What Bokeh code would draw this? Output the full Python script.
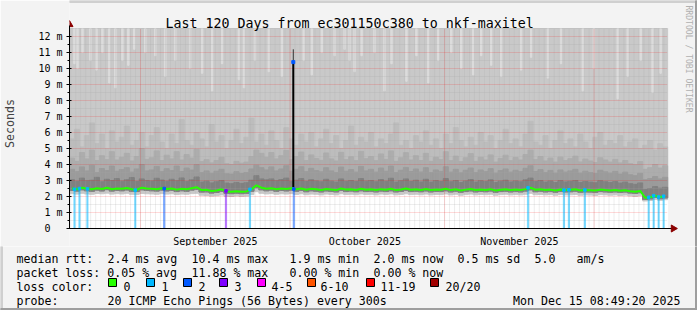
import re
from bokeh.plotting import figure
from bokeh.layouts import column
from bokeh.models import Range1d, FixedTicker
from bokeh.core.properties import value
from bokeh.embed import file_html
from bokeh.resources import INLINE

# ---------------- data ----------------
title_text = "Last 120 Days from ec301150c380 to nkf-maxitel"
month_labels = ["September 2025", "October 2025", "November 2025"]
month_label_pos = [29.25, 59.25, 90.25]          # days since start
month_starts = [14.25, 44.25, 75.25, 105.25]     # days since start
y_ticks = list(range(13))
y_tick_labels = ["0\u00a0\u00a0"] + [f"{v} m" for v in range(1, 13)]

days = list(range(120))

median = [2.50,2.45,2.55,2.48,2.45,2.52,2.47,2.55,2.45,2.50,2.48,2.53,2.45,2.42,2.55,2.50,2.48,2.45,2.52,2.47,
          2.50,2.43,2.48,2.45,2.52,2.58,2.40,2.42,2.35,2.38,2.45,2.32,2.30,2.33,2.30,2.32,2.45,2.70,2.55,2.48,
          2.52,2.45,2.50,2.47,2.52,2.45,2.50,2.42,2.48,2.45,2.40,2.47,2.44,2.40,2.50,2.43,2.46,2.41,2.48,2.42,
          2.45,2.40,2.46,2.42,2.48,2.40,2.44,2.50,2.42,2.45,2.41,2.47,2.40,2.44,2.42,2.48,2.40,2.45,2.38,2.43,
          2.47,2.40,2.44,2.41,2.46,2.38,2.42,2.45,2.40,2.43,2.40,2.46,2.55,2.42,2.45,2.40,2.43,2.38,2.44,2.40,
          2.42,2.45,2.38,2.41,2.39,2.37,2.43,2.40,2.38,2.41,2.36,2.39,2.33,2.30,2.35,1.92,1.95,2.05,1.97,2.02]

smoke_min = [2.18,2.15,2.20,2.16,2.14,2.19,2.17,2.21,2.15,2.18,2.16,2.20,2.14,2.13,2.19,2.17,2.16,2.14,2.18,2.15,
             2.17,2.12,2.15,2.14,2.18,2.20,2.08,2.06,2.03,2.05,2.10,2.02,2.00,2.04,2.01,2.03,2.12,2.30,2.20,2.16,
             2.18,2.14,2.17,2.15,2.18,2.13,2.17,2.11,2.15,2.14,2.10,2.15,2.13,2.10,2.17,2.12,2.14,2.11,2.16,2.12,
             2.14,2.10,2.15,2.12,2.16,2.10,2.13,2.17,2.12,2.14,2.11,2.15,2.10,2.13,2.12,2.16,2.10,2.14,2.08,2.12,
             2.15,2.10,2.13,2.11,2.14,2.08,2.12,2.14,2.10,2.12,2.10,2.14,2.20,2.11,2.13,2.10,2.12,2.08,2.13,2.10,
             2.11,2.13,2.08,2.10,2.09,2.07,2.12,2.10,2.08,2.10,2.06,2.09,2.04,2.01,2.05,1.72,1.75,1.82,1.76,1.80]

smoke_p20 = [2.38,2.34,2.42,2.36,2.33,2.40,2.35,2.43,2.34,2.38,2.36,2.41,2.33,2.31,2.42,2.38,2.36,2.34,2.40,2.35,
             2.38,2.31,2.36,2.33,2.40,2.45,2.28,2.29,2.22,2.25,2.32,2.20,2.18,2.21,2.18,2.20,2.33,2.55,2.42,2.36,
             2.40,2.33,2.38,2.35,2.40,2.33,2.38,2.30,2.36,2.33,2.29,2.35,2.32,2.29,2.38,2.31,2.34,2.30,2.36,2.31,
             2.33,2.29,2.34,2.31,2.36,2.29,2.32,2.38,2.31,2.33,2.30,2.35,2.29,2.32,2.31,2.36,2.29,2.33,2.27,2.31,
             2.35,2.29,2.32,2.30,2.34,2.27,2.31,2.33,2.29,2.31,2.29,2.34,2.42,2.30,2.33,2.29,2.31,2.27,2.32,2.29,
             2.30,2.33,2.27,2.29,2.28,2.26,2.31,2.29,2.27,2.29,2.25,2.28,2.22,2.19,2.24,1.82,1.85,1.94,1.86,1.91]

smoke_p60 = [3.05,2.95,3.15,2.98,3.02,3.20,2.92,3.08,3.00,3.12,2.96,3.05,3.18,2.94,3.10,3.00,2.97,3.14,3.03,2.95,
             3.08,2.98,3.16,2.93,3.04,3.22,2.90,2.96,2.85,2.92,3.00,2.84,2.80,2.88,2.82,2.86,3.02,3.30,3.10,3.04,
             3.10,2.98,3.06,3.15,2.95,3.02,3.12,2.94,3.05,2.97,2.92,3.08,2.96,2.90,3.10,2.95,3.00,2.93,3.12,2.96,
             3.00,2.92,3.06,2.95,3.14,2.90,2.98,3.10,2.94,3.02,2.91,3.08,2.90,2.99,2.94,3.12,2.92,3.00,2.88,2.97,
             3.06,2.90,2.98,2.93,3.04,2.88,2.96,3.02,2.91,2.97,2.92,3.04,3.15,2.93,3.00,2.90,2.97,2.87,2.99,2.91,
             2.95,3.00,2.88,2.94,2.90,2.86,2.98,2.92,2.88,2.93,2.84,2.90,2.80,2.76,2.85,2.45,2.50,2.62,2.52,2.58]

smoke_p70 = [3.70,3.55,3.85,3.60,3.95,3.50,3.75,3.62,3.90,3.58,3.68,3.80,3.52,3.72,4.00,3.60,3.66,3.88,3.55,3.74,
             3.62,3.90,3.56,3.78,3.65,3.98,3.50,3.60,3.45,3.58,3.70,3.42,3.40,3.55,3.44,3.50,3.72,3.95,3.80,3.66,
             3.85,3.60,3.72,3.92,3.58,3.70,3.86,3.55,3.76,3.62,3.54,3.80,3.60,3.50,3.84,3.58,3.68,3.52,3.88,3.60,
             3.70,3.52,3.78,3.58,3.90,3.50,3.64,3.82,3.56,3.72,3.53,3.80,3.50,3.66,3.57,3.86,3.52,3.70,3.48,3.64,
             3.78,3.50,3.66,3.55,3.74,3.46,3.62,3.72,3.52,3.64,3.55,3.76,3.92,3.56,3.68,3.50,3.63,3.46,3.66,3.52,
             3.60,3.70,3.46,3.58,3.50,3.44,3.64,3.54,3.46,3.57,3.40,3.52,3.36,3.30,3.45,3.05,3.12,3.25,3.10,3.20]

smoke_p80 = [4.40,4.20,4.75,4.35,4.90,4.25,4.55,4.30,4.80,4.28,4.45,4.70,4.22,4.50,5.00,4.32,4.42,4.85,4.25,4.58,
             4.35,4.80,4.28,4.62,4.40,4.95,4.18,4.30,4.10,4.25,4.45,4.05,4.00,4.20,4.08,4.15,4.50,4.90,4.70,4.45,
             4.75,4.35,4.55,4.88,4.30,4.50,4.78,4.25,4.60,4.38,4.26,4.72,4.35,4.22,4.76,4.30,4.48,4.24,4.82,4.36,
             4.50,4.24,4.66,4.32,4.85,4.20,4.42,4.74,4.28,4.55,4.25,4.70,4.20,4.45,4.30,4.80,4.24,4.52,4.18,4.42,
             4.68,4.20,4.45,4.28,4.60,4.15,4.38,4.58,4.24,4.44,4.28,4.62,4.90,4.30,4.50,4.22,4.40,4.15,4.46,4.25,
             4.36,4.52,4.16,4.34,4.22,4.12,4.42,4.28,4.15,4.32,4.10,4.25,4.05,3.98,4.18,3.70,3.80,4.00,3.78,3.92]

smoke_p90 = [5.6,6.2,5.1,5.8,6.6,5.3,5.9,5.0,6.1,5.4,5.7,6.4,5.2,5.5,6.0,5.1,5.8,6.3,5.4,5.0,
             5.9,5.3,6.8,5.5,5.2,6.0,5.6,5.1,6.5,5.4,5.8,5.0,5.5,6.2,5.3,5.7,6.9,5.4,5.9,5.2,
             6.1,5.5,5.0,6.3,5.6,5.2,5.9,5.4,6.0,5.1,5.6,6.2,5.3,5.8,5.0,5.5,6.4,5.2,5.7,5.4,
             6.0,5.1,5.6,5.3,5.9,6.6,5.2,5.5,5.0,5.8,5.4,6.1,5.2,5.6,5.0,5.9,5.3,6.3,5.5,5.1,
             5.7,5.2,6.0,5.4,5.8,5.0,5.5,6.2,5.3,5.6,5.1,5.9,6.7,5.4,5.2,5.8,5.0,5.5,6.1,5.3,
             5.6,5.1,5.9,5.4,5.0,5.7,6.0,5.2,5.5,5.3,5.8,5.1,5.4,5.6,5.0,5.2,5.5,4.9,5.3,5.1]

smoke_clip = 12.5   # the outer smoke runs above the top of the chart
chart_days = 120
axis_top = 12.875   # y axis arrow tip
axis_right = 121.6  # x axis arrow tip

streak_day = [1.0,1.6,2.6,4.2,5.4,6.6,8.0,9.2,10.6,11.8,13.0,15.2,17.2,19.2,21.2,24.2,26.6,28.6,30.6,34.0,
              35.0,37.2,40.0,42.6,47.0,48.6,50.6,53.2,55.2,56.2,57.2,58.6,61.2,63.2,64.6,67.6,69.6,72.0,74.0,76.6,
              78.6,81.0,82.6,84.6,86.6,90.6,92.6,96.0,98.6,103.0,105.2,110.0,112.0,114.6,117.0,118.6]
streak_low = [10.3,10.0,11.0,10.5,9.9,11.0,9.1,8.8,10.5,10.2,11.2,11.0,10.8,9.5,10.5,10.0,9.7,8.6,10.3,9.3,
              8.8,10.5,9.8,9.5,10.5,9.6,11.0,10.8,11.2,10.5,9.8,10.8,11.0,8.6,10.3,9.2,10.8,9.1,10.5,11.0,
              10.0,9.6,10.8,10.2,9.5,9.9,10.7,9.4,10.3,8.6,10.0,8.1,9.5,10.5,8.5,9.7]

loss_day = [1.0, 2.0, 3.6, 13.2, 19.0, 31.4, 36.2, 45.0, 92.0, 99.2, 100.2, 103.4, 116.2, 117.2, 118.2, 119.2]
loss_count = [1, 1, 1, 1, 2, 3, 1, 2, 1, 1, 1, 1, 1, 1, 1, 1]
loss_top = [2.45, 2.50, 2.48, 2.40, 2.50, 2.35, 2.45, 2.47, 2.55, 2.40, 2.42, 2.41, 1.95, 2.05, 1.97, 2.02]

spike_day = 44.9
spike_base = 2.6
spike_median = 10.4
spike_top = 11.2

loss_legend = ["0", "1", "2", "3", "4-5", "6-10", "11-19", "20/20"]
loss_colors = ["#26ff00", "#00b8ff", "#0059ff", "#7e00ff", "#ff00ff", "#ff5500", "#ff0000", "#a10000"]

stats_line1 = "median rtt:  2.4 ms avg  10.4 ms max   1.9 ms min  2.0 ms now  0.5 ms sd  5.0   am/s"
stats_line2 = "packet loss: 0.05 % avg  11.88 % max   0.00 % min  0.00 % now"
probe_line = "probe:       20 ICMP Echo Pings (56 Bytes) every 300s"
date_text = "Mon Dec 15 08:49:20 2025"
watermark = "RRDTOOL / TOBI OETIKER"

# ---------------- layout ----------------
W, H, SPLIT = 697, 310, 246
FL, FB, PXD, PXM = 67, 228, 5.0, 16.0     # frame left px, zero line px, px per day, px per ms
MONO = "DejaVu Sans Mono"
BG = "#f3f3f3"

def X(px):
    return (px - FL) / PXD

def Y(py):
    return (FB - py) / PXM

# ===== chart =====
p = figure(width=W, height=SPLIT, output_backend="svg", toolbar_location=None, title=None,
           x_range=Range1d(X(FL), X(W)), y_range=Range1d(Y(SPLIT), Y(0)),
           x_axis_location=None,
           min_border_left=FL, min_border_right=0, min_border_top=0, min_border_bottom=0)
p.frame_align = False
p.background_fill_color = BG
p.border_fill_color = BG
p.outline_line_color = None
p.grid.visible = False

p.quad(left=[0], right=[chart_days], bottom=[0], top=[smoke_clip], color="#ffffff")

xc = [d + 0.5 for d in days]
top_clip = [smoke_clip] * len(days)

# smoke bands (outer -> inner)
p.vbar(x=xc, width=1.02, bottom=smoke_min, top=top_clip, color="#c9c9c9")
p.vbar(x=streak_day, width=0.3, bottom=streak_low, top=[smoke_clip] * len(streak_day), color="#dcdcdc")
p.vbar(x=xc, width=1.02, bottom=smoke_p20, top=smoke_p90, color="#bdbdbd")
p.vbar(x=xc, width=1.02, bottom=smoke_p20, top=smoke_p80, color="#adadad")
p.vbar(x=xc, width=1.02, bottom=smoke_p20, top=smoke_p70, color="#9b9b9b")
p.vbar(x=xc, width=1.02, bottom=smoke_p20, top=smoke_p60, color="#808080")

# dotted grid, limited to the data area
day_lines = [0.25 + k for k in range(chart_days)]
half_lines = [0.5 + k for k in range(13)]
p.segment(x0=day_lines, y0=0, x1=day_lines, y1=smoke_clip, line_color="#a8a8a8", line_alpha=0.4, line_dash="1 1")
p.segment(x0=0, y0=half_lines, x1=chart_days, y1=half_lines, line_color="#a8a8a8", line_alpha=0.4, line_dash="1 1")
p.segment(x0=month_starts, y0=0, x1=month_starts, y1=smoke_clip, line_color="#ff0000", line_alpha=0.3, line_dash="1 1")
p.segment(x0=0, y0=y_ticks[1:], x1=chart_days, y1=y_ticks[1:], line_color="#ff0000", line_alpha=0.3, line_dash="1 1")

# loss markers
lcol = [loss_colors[c] for c in loss_count]
p.vbar(x=loss_day, width=0.25, bottom=0, top=loss_top, color=lcol, alpha=0.4)

# median
p.line(x=xc, y=median, line_color="#26ff00", line_width=2)
p.scatter(x=loss_day, y=loss_top, marker="square", size=2.5, color=lcol)

# spike
p.segment(x0=[spike_day], y0=[spike_base], x1=[spike_day], y1=[spike_median], line_color="black", line_width=2)
p.segment(x0=[spike_day], y0=[spike_median], x1=[spike_day], y1=[spike_top], line_color="#333333", line_width=1)
p.scatter(x=[spike_day], y=[spike_median], marker="square", size=3, color="#0059ff")

# x axis line and arrow heads
p.segment(x0=[0], y0=[0], x1=[axis_right - 0.6], y1=[0], line_color="black", line_width=1)
p.scatter(x=[axis_right - 0.45], y=[0], marker="triangle", size=7, angle=-1.5708, color="#8b0000")
p.scatter(x=[0], y=[axis_top - 0.13], marker="triangle", size=7, color="#8b0000")

# y axis
ya = p.yaxis[0]
ya.bounds = (0, axis_top - 0.2)
ya.ticker = FixedTicker(ticks=y_ticks, minor_ticks=half_lines[:-1])
ya.major_label_overrides = {t: l for t, l in zip(y_ticks, y_tick_labels)}
ya.major_label_text_font = MONO
ya.major_label_text_font_size = "10px"
ya.major_label_text_color = "black"
ya.major_tick_out = 3
ya.major_tick_in = 2
ya.minor_tick_out = 2
ya.minor_tick_in = 0
ya.major_label_standoff = 4
ya.axis_label = "Seconds"
ya.axis_label_text_font = MONO
ya.axis_label_text_font_size = "11.6px"
ya.axis_label_text_font_style = "normal"
ya.axis_label_standoff = 18
ya.axis_line_color = "black"

# month labels
p.text(x=month_label_pos, y=Y(241), text=month_labels, text_font=value(MONO), text_font_size="10px",
       text_align="center", text_baseline="alphabetic", text_color="black")

# title and watermark
p.text(x=[X(348)], y=[Y(23.4)], text=[title_text], text_font=value(MONO), text_font_size="13.3px",
       text_align="center", text_baseline="alphabetic", text_color="black")
p.text(x=[X(688)], y=[Y(58.5)], text=[watermark], text_font=value(MONO), text_font_size="8.1px",
       text_align="center", text_baseline="middle", text_color="#b0b0b0", angle=-1.5708)

# frame shading
p.quad(left=[X(FL)], right=[X(W)], bottom=[Y(2)], top=[Y(0)], color="#cfcfcf")
p.quad(left=[X(W - 2)], right=[X(W)], bottom=[Y(SPLIT)], top=[Y(0)], color="#9e9e9e")

# ===== legend area =====
q = figure(width=W, height=H - SPLIT, output_backend="svg", toolbar_location=None, title=None,
           x_range=Range1d(X(0), X(W)), y_range=Range1d(Y(H), Y(SPLIT)),
           x_axis_location=None, y_axis_location=None,
           min_border_left=0, min_border_right=0, min_border_top=0, min_border_bottom=0)
q.frame_align = False
q.background_fill_color = BG
q.border_fill_color = BG
q.outline_line_color = None
q.grid.visible = False

tx, ty, tt = [], [], []
def text_line(s, py, x0=16.0, cw=7.0):
    for m in re.finditer(r"\S+(?: \S+)*", s):
        tx.append(X(x0 + m.start() * cw)); ty.append(Y(py)); tt.append(m.group())

text_line(stats_line1, 258.4)
text_line(stats_line2, 272.4)
text_line(probe_line, 300.2)
text_line("loss color:", 286.3)
box_px = [108, 146, 183, 219, 257, 307, 366, 430]
name_px = [123, 161, 198, 234, 271, 320, 380, 445]
for npx, name in zip(name_px, loss_legend):
    tx.append(X(npx)); ty.append(Y(286.3)); tt.append(name)
q.text(x=tx, y=ty, text=tt, text_font=value(MONO), text_font_size="11.6px",
       text_align="left", text_baseline="alphabetic", text_color="black")
q.text(x=[X(680)], y=[Y(300.2)], text=[date_text], text_font=value(MONO), text_font_size="11.6px",
       text_align="right", text_baseline="alphabetic", text_color="black")
q.rect(x=[X(b + 4) for b in box_px], y=Y(282), width=8 / PXD, height=8 / PXM,
       fill_color=loss_colors, line_color="black", line_width=1)

q.quad(left=[X(0)], right=[X(2)], bottom=[Y(H)], top=[Y(SPLIT)], color="#cfcfcf")
q.quad(left=[X(W - 2)], right=[X(W)], bottom=[Y(H)], top=[Y(SPLIT)], color="#9e9e9e")
q.quad(left=[X(0)], right=[X(W)], bottom=[Y(H)], top=[Y(H - 2)], color="#9e9e9e")

layout = column(p, q, spacing=0)
open("out.html", "w").write(file_html(layout, INLINE))
